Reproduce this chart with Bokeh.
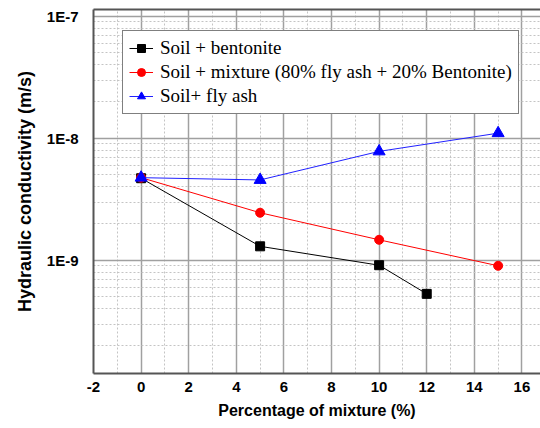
from bokeh.plotting import figure
from bokeh.models import (Range1d, FixedTicker, SingleIntervalTicker, CustomJSTickFormatter,
                          Legend, LegendItem, LinearAxis)
from bokeh.embed import file_html
from bokeh.resources import INLINE

# data
bent_x = [0, 5, 10, 12]
bent_y = [4.7e-9, 1.30e-9, 9.1e-10, 5.3e-10]
mix_x = [0, 5, 10, 15]
mix_y = [4.75e-9, 2.45e-9, 1.47e-9, 9.0e-10]
ash_x = [0, 5, 10, 15]
ash_y = [4.75e-9, 4.55e-9, 7.8e-9, 1.10e-8]

labels = ["Soil + bentonite",
          "Soil + mixture (80% fly ash + 20% Bentonite)",
          "Soil+ fly ash"]
y_major = [1e-9, 1e-8, 1e-7]
y_minor = [m * d for d in (1e-10, 1e-9, 1e-8) for m in range(2, 10)]

p = figure(width=540, height=428, y_axis_type="log",
           x_range=Range1d(-2, 16.78), y_range=Range1d(1.179e-10, 1.135e-7),
           output_backend="svg", toolbar_location=None,
           min_border_left=93, min_border_right=0, min_border_top=9, min_border_bottom=55)
p.outline_line_color = None
p.background_fill_color = "white"
p.border_fill_color = "white"

# axes
p.xaxis.ticker = SingleIntervalTicker(interval=2, num_minor_ticks=2)
p.xaxis.formatter = CustomJSTickFormatter(code="return String(Math.round(tick));")
p.yaxis.ticker = FixedTicker(ticks=y_major, minor_ticks=y_minor)
p.yaxis.formatter = CustomJSTickFormatter(code="return '1E' + Math.round(Math.log10(tick));")
for ax in (p.xaxis[0], p.yaxis[0]):
    ax.major_tick_out = 0
    ax.major_tick_in = 0
    ax.minor_tick_out = 0
    ax.minor_tick_in = 0
    ax.axis_line_color = "#555555"
    ax.axis_line_width = 2
    ax.major_label_text_font = "Liberation Sans"
    ax.major_label_text_font_style = "bold"
    ax.major_label_text_font_size = "15px"
    ax.major_label_text_color = "black"
    ax.axis_label_text_font = "Liberation Sans"
    ax.axis_label_text_font_style = "bold"
    ax.axis_label_text_color = "black"
p.xaxis.major_label_standoff = 8
p.yaxis.major_label_standoff = 15
p.xaxis.axis_label = "Percentage of mixture (%)"
p.xaxis.axis_label_text_font_size = "16px"
p.xaxis.axis_label_standoff = 7
p.yaxis.axis_label = "Hydraulic conductivity (m/s)"
p.yaxis.axis_label_text_font_size = "18px"
p.yaxis.axis_label_standoff = 9

top = LinearAxis(major_tick_in=0, major_tick_out=0, minor_tick_in=0, minor_tick_out=0,
                 axis_line_color="#555555", axis_line_width=2)
top.ticker = FixedTicker(ticks=[])
p.add_layout(top, "above")

# grids
for g in (p.xgrid[0], p.ygrid[0]):
    g.grid_line_color = "#a0a0a0"
    g.grid_line_width = 1.5
    g.minor_grid_line_color = "#c4c4c4"
    g.minor_grid_line_dash = "2 2"
    g.minor_grid_line_width = 1

# series
l1 = p.line(bent_x, bent_y, line_color="black", line_width=1)
m1 = p.scatter(bent_x, bent_y, marker="square", size=9, fill_color="black", line_color="black")
l2 = p.line(mix_x, mix_y, line_color="red", line_width=1)
m2 = p.scatter(mix_x, mix_y, marker="circle", size=9, fill_color="red", line_color="red")
l3 = p.line(ash_x, ash_y, line_color="#2020ff", line_width=1)
m3 = p.scatter(ash_x, ash_y, marker="triangle", size=12, fill_color="blue", line_color="blue")

legend = Legend(items=[LegendItem(label=labels[0], renderers=[l1, m1]),
                       LegendItem(label=labels[1], renderers=[l2, m2]),
                       LegendItem(label=labels[2], renderers=[l3, m3])],
                location=(29, 259))
legend.label_text_font = "Liberation Serif"
legend.label_text_font_size = "19px"
legend.label_text_color = "black"
legend.border_line_color = "black"
legend.border_line_width = 1.5
legend.background_fill_alpha = 1
legend.glyph_width = 24
legend.glyph_height = 20
legend.label_height = 20
legend.label_standoff = 7
legend.spacing = 2
legend.padding = 6
legend.margin = 0
p.add_layout(legend, "center")

open("out.html", "w").write(file_html(p, INLINE))
